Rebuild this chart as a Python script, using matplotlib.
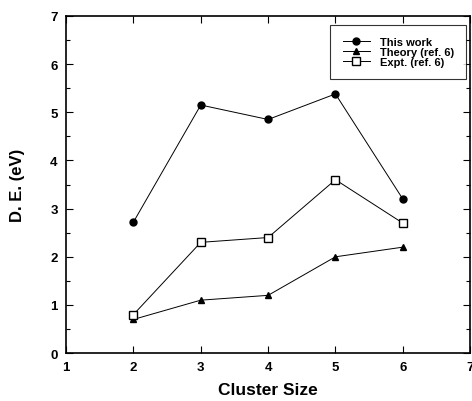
import matplotlib
matplotlib.use("Agg")
import matplotlib.pyplot as plt
from matplotlib.ticker import MultipleLocator

plt.rcParams['font.family'] = ['Liberation Sans', 'DejaVu Sans']
plt.rcParams['font.weight'] = 'bold'

cluster_size = [2, 3, 4, 5, 6]
this_work = [2.72, 5.15, 4.85, 5.38, 3.2]
theory = [0.7, 1.1, 1.2, 2.0, 2.2]
expt = [0.8, 2.3, 2.4, 3.6, 2.7]

fig = plt.figure(figsize=(4.72, 4.02), dpi=100)
ax = fig.add_axes([0.14, 0.119, 0.856, 0.839])

ax.plot(cluster_size, this_work, color='black', lw=0.7, marker='o', ms=5,
        label='This work')
ax.plot(cluster_size, theory, color='black', lw=0.7, marker='^', ms=5,
        label='Theory (ref. 6)')
ax.plot(cluster_size, expt, color='black', lw=0.7, marker='s', ms=5.5,
        mfc='white', mew=1.0, label='Expt. (ref. 6)')

ax.set_xlim(1, 7)
ax.set_ylim(0, 7)
ax.xaxis.set_major_locator(MultipleLocator(1))
ax.yaxis.set_major_locator(MultipleLocator(1))
ax.yaxis.set_minor_locator(MultipleLocator(0.5))
ax.tick_params(which='both', direction='in', top=True, right=True,
               labelsize=9.5, width=0.8, pad=6)
ax.tick_params(which='major', length=5)
ax.tick_params(which='minor', length=3)
for lab in ax.get_xticklabels() + ax.get_yticklabels():
    lab.set_fontweight('bold')
for s in ax.spines.values():
    s.set_linewidth(1.2)

ax.set_xlabel('Cluster Size', fontsize=12.5, fontweight='bold', labelpad=6)
ax.set_ylabel('D. E. (eV)', fontsize=12, fontweight='bold', labelpad=18)

leg = ax.legend(loc='upper right', bbox_to_anchor=(0.99, 0.973),
                prop={'weight': 'bold', 'size': 8}, frameon=True, fancybox=False,
                edgecolor='black', borderpad=1.1, handlelength=2.45,
                handletextpad=0.9, labelspacing=0.0, numpoints=1,
                borderaxespad=0)
leg.get_frame().set_linewidth(0.8)

fig.savefig('out.png', dpi=100)
